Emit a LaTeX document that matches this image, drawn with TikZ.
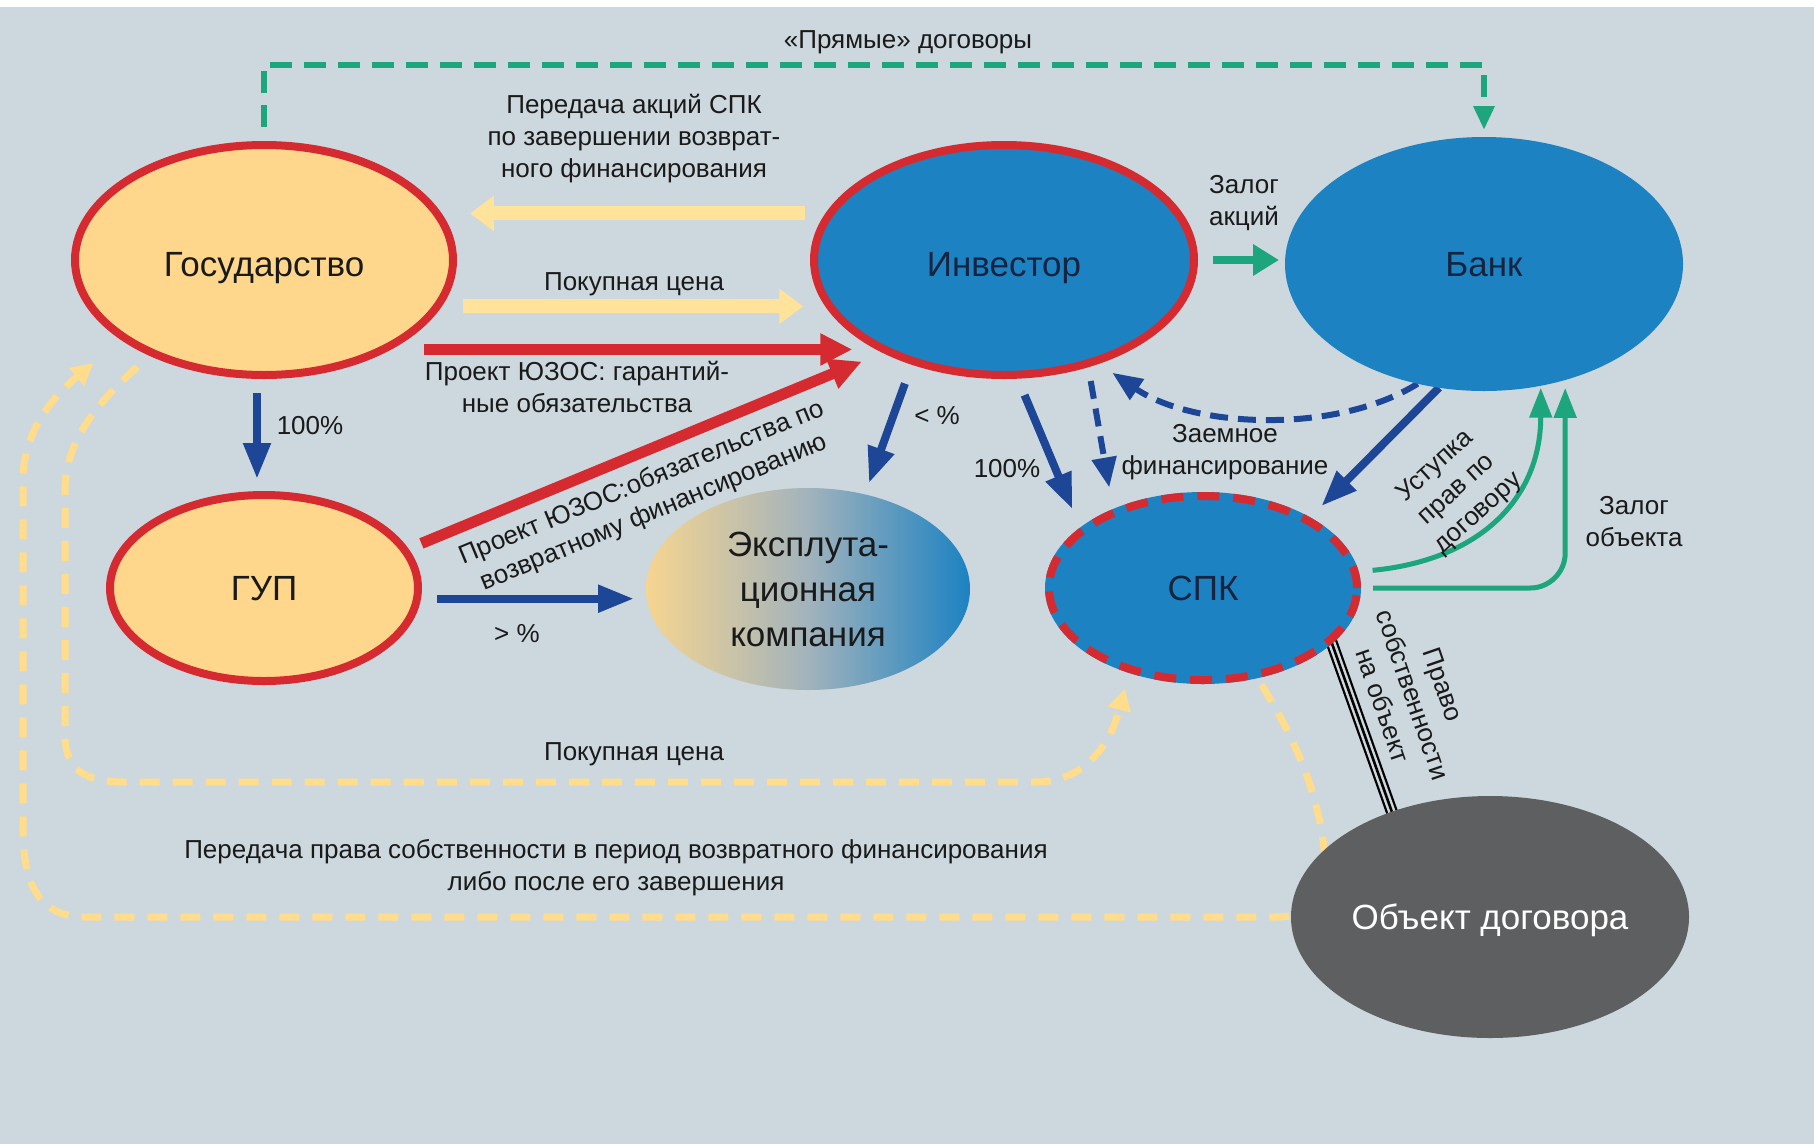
\documentclass[tikz,border=0pt]{standalone}
\usepackage{fontspec}
\setmainfont{Liberation Sans}
\usetikzlibrary{arrows.meta,shapes.geometric,calc}

\definecolor{bgc}{HTML}{CCD7DE}
\definecolor{sand}{HTML}{FFD78C}
\definecolor{redb}{HTML}{D52A30}
\definecolor{blu}{HTML}{1C82C2}
\definecolor{navy}{HTML}{1D4696}
\definecolor{greenc}{HTML}{1DA57D}
\definecolor{paley}{HTML}{FFE39A}
\definecolor{dashy}{HTML}{FFDD8C}
\definecolor{objgray}{HTML}{5E5F61}
\definecolor{ink}{HTML}{1A1A1A}
\definecolor{deepink}{HTML}{16243F}
\definecolor{midgrey}{HTML}{A2B3BC}
\definecolor{leftsand}{HTML}{F6D590}

\newcommand\bigtxt{\fontsize{35}{45}\selectfont}
\newcommand\smalltxt{\fontsize{26}{32}\selectfont}

\pgfdeclarelayer{backdrop}
\pgfdeclarelayer{links}
\pgfsetlayers{backdrop,links,main}

\tikzset{
  ent/.style={ellipse, inner sep=0pt, outer sep=0pt, font=\bigtxt, text=deepink},
  oneline/.style={text height=25pt, text depth=0pt},
  lowline/.style={text height=33pt, text depth=0pt},
  lbl/.style={font=\smalltxt, text=ink, inner sep=1pt},
  bluearr/.style={draw=navy, line width=8pt, -{Triangle[length=36pt,width=26pt]}},
  bluedash/.style={draw=navy, line width=6pt, dash pattern=on 18pt off 10pt, -{Triangle[length=30pt,width=24pt]}},
  redarr/.style={draw=redb, line width=11pt, -{Triangle[length=32pt,width=30pt]}},
  yelarr/.style={draw=paley, line width=14pt, -{Triangle[length=24pt,width=34pt]}},
  yeldash/.style={draw=dashy, line width=7pt, dash pattern=on 20pt off 13pt, -{Triangle[length=22pt,width=22pt]}},
  grnarr/.style={draw=greenc, line width=5pt, -{Triangle[length=30pt,width=22pt]}},
}

\begin{document}
\begin{tikzpicture}[x=1pt, y=-1pt]
\useasboundingbox (0,0) rectangle (1814,1144);
\begin{pgfonlayer}{backdrop}
  \fill[bgc] (0,0) rectangle (1814,1144);
  \fill[white] (0,0) rectangle (1814,7);
\end{pgfonlayer}

% parties
\node[ent, lowline, fill=sand, draw=redb, line width=8pt, text=ink,
      minimum width=378pt, minimum height=230pt] (gos) at (264,260) {Государство};
\node[ent, lowline, fill=blu, draw=redb, line width=8pt,
      minimum width=380pt, minimum height=230pt] (inv) at (1004,260) {Инвестор};
\node[ent, oneline, fill=blu, minimum width=398pt, minimum height=254pt] (bank) at (1484,264) {Банк};
\node[ent, oneline, fill=sand, draw=redb, line width=8pt, text=ink,
      minimum width=308pt, minimum height=186pt] (gup) at (264,588) {ГУП};
\node[ent, left color=leftsand, right color=blu, middle color=midgrey,
      minimum width=324pt, minimum height=202pt, align=center, text=ink] (eks) at (808,589)
      {Эксплута-\\ционная\\компания};
\node[ent, oneline, fill=blu, draw=redb, line width=8pt, dash pattern=on 22pt off 14pt,
      preaction={draw=blu, solid},
      minimum width=308pt, minimum height=184pt] (spk) at (1203,588) {СПК};
\node[ent, oneline, fill=objgray, text=white, minimum width=398pt, minimum height=242pt] (obj) at (1490,917) {Объект договора};

\begin{pgfonlayer}{links}
  % direct contracts
  \draw[draw=greenc, line width=6pt, dash pattern=on 22pt off 12pt,
        -{Triangle[length=24pt,width=20pt]}, shorten <=18pt, shorten >=7pt]
    (gos.north) -- ++(0,-80) -| (bank.north);
  % shares and price between state and investor
  \draw[yelarr, shorten <=25pt, shorten >=33pt] (inv.165) -- (gos.15 |- inv.165);
  \draw[yelarr, shorten <=26pt, shorten >=27pt] (gos.345) -- (inv.195 |- gos.345);
  % guarantees
  \draw[redarr, shorten <=41pt, shorten >=30pt] (gos.323.4) -- (inv.216.9 |- gos.323.4);
  \draw[redarr, shorten <=18pt, shorten >=28pt] (gup.15) -- (inv.218);
  % ownership shares
  \draw[bluearr, shorten <=18pt, shorten >=16pt] ([xshift=-7pt]gos.south) -- ([xshift=-7pt]gup.north);
  \draw[bluearr, shorten <=20pt, shorten >=13pt] (gup.356) -- (eks.184.3 |- gup.356);
  \draw[bluearr, shorten <=24pt, shorten >=12pt] (inv.228) -- (eks.59);
  \draw[bluearr, shorten <=22pt, shorten >=24pt] (inv.276) -- (spk.155);
  % loan financing
  \draw[bluedash, shorten <=18pt, shorten >=26pt] (inv.309) -- (spk.140);
  \draw[bluedash, shorten >=21pt] (bank.241) .. controls +(-80,50) and +(100,68) .. (inv.312);
  \draw[bluearr, shorten >=20pt] (bank.250) -- (spk.33);
  % pledges and assignment
  \draw[draw=greenc, line width=8pt, -{Triangle[length=26pt,width=30pt]}, shorten <=19pt, shorten >=6pt]
    (inv.east) -- (bank.west |- inv.east);
  \draw[grnarr, shorten <=18pt, shorten >=2pt]
    (spk.6) .. controls +(125,-12) and +(0,113) .. (bank.295.5);
  \draw[grnarr, rounded corners=35pt, shorten <=16pt, shorten >=8pt]
    (spk.east) -| (bank.305.7);
  % ownership of the object
  \draw[black, line width=12pt] (spk.338) -- (obj.133);
  \draw[bgc, line width=7.5pt] (spk.338) -- (obj.133);
  \draw[black, line width=2.6pt] (spk.338) -- (obj.133);
  % purchase price paid by the state
  \draw[yeldash, shorten <=21pt, shorten >=20pt]
    (gos.220) .. controls (100,400) and (65,440) .. (65,490) -- (65,735)
    .. controls (65,770) and (85,782) .. (125,782) -- (1035,782)
    .. controls (1085,782) and (1110,745) .. (spk.228);
  % transfer of ownership
  \draw[yeldash, shorten <=12pt, shorten >=40pt]
    (spk.301) .. controls (1290,730) and (1325,800) .. (1325,870)
    .. controls (1325,905) and (1310,917) .. (1275,917) -- (85,917)
    .. controls (40,917) and (23,885) .. (23,830) -- (23,480)
    .. controls (23,430) and (55,395) .. (gos.209);
\end{pgfonlayer}

% connector labels
\node[lbl] (tpr) at (908,42) {«Прямые» договоры};
\node[lbl, align=center] (tsh) at (634,139) {Передача акций СПК\\по завершении возврат-\\ного финансирования};
\node[lbl] (tpc) at (634,284) {Покупная цена};
\node[lbl, align=center] (tgar) at (577,387) {Проект ЮЗОС: гарантий-\\ные обязательства};
\node[lbl, align=center, rotate=22.5] (tret) at (648,498) {Проект ЮЗОС:обязательства по\\возвратному финансированию};
\node[lbl] (tga) at (310,426) {100\%};
\node[lbl] (tgb) at (517,634) {> \%};
\node[lbl] (tia) at (937,416) {< \%};
\node[lbl] (tib) at (1007,469) {100\%};
\node[lbl, align=center] (tloan) at (1225,452) {Заемное\\финансирование};
\node[lbl, align=center] (tza) at (1244,203) {Залог\\акций};
\node[lbl, align=center, rotate=42] (tust) at (1457,490) {Уступка\\прав по\\договору};
\node[lbl, align=center] (tzo) at (1634,522) {Залог\\объекта};
\node[lbl, align=center, rotate=-71] (tprav) at (1413,695) {Право\\собственности\\на объект};
\node[lbl] (tpc2) at (634,754) {Покупная цена};
\node[lbl, align=center] (tper) at (616,868) {Передача права собственности в период возвратного финансирования\\либо после его завершения};
\end{tikzpicture}
\end{document}
